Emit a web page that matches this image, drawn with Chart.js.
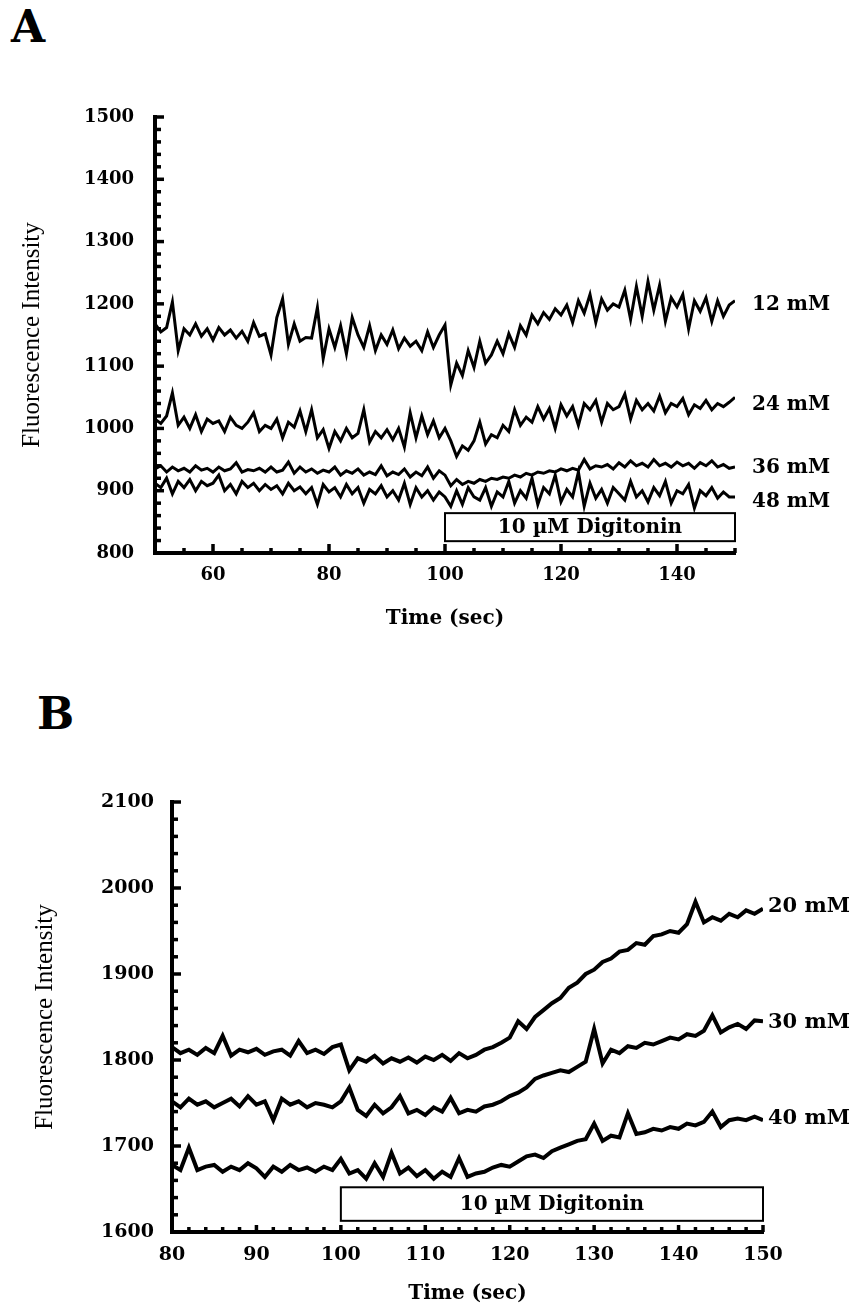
<!DOCTYPE html>
<html>
<head>
<meta charset="utf-8">
<script src="https://cdn.jsdelivr.net/npm/chart.js@4.4.0/dist/chart.umd.min.js"></script>
<style>
  body { margin: 0; background: #fff; width: 865px; height: 1310px; position: relative; overflow: hidden; }
  .panel { position: absolute; left: 0; }
  .tag { position: absolute; font: bold 44px 'DejaVu Serif'; line-height: 44px; color: #000; }
</style>
</head>
<body>

<div class="tag" style="left:11px;top:5px">A</div>
<div class="tag" style="left:37px;top:692px">B</div>

<canvas id="chartA" class="panel" style="top:0" width="865" height="635"></canvas>
<canvas id="chartB" class="panel" style="top:650px" width="865" height="660"></canvas>

<script>
// ---- panel A data (time in sec, fluorescence intensity) ----
const timeA = [50, 51, 52, 53, 54, 55, 56, 57, 58, 59, 60, 61, 62, 63, 64, 65, 66, 67, 68, 69,
  70, 71, 72, 73, 74, 75, 76, 77, 78, 79, 80, 81, 82, 83, 84, 85, 86, 87, 88, 89,
  90, 91, 92, 93, 94, 95, 96, 97, 98, 99, 100, 101, 102, 103, 104, 105, 106, 107, 108, 109,
  110, 111, 112, 113, 114, 115, 116, 117, 118, 119, 120, 121, 122, 123, 124, 125, 126, 127, 128, 129,
  130, 131, 132, 133, 134, 135, 136, 137, 138, 139, 140, 141, 142, 143, 144, 145, 146, 147, 148, 149, 150]

const mM12 = [1168, 1155, 1162, 1203, 1125, 1160, 1150, 1168, 1148, 1160,
  1142, 1162, 1150, 1158, 1145, 1156, 1140, 1170, 1148, 1152,
  1118, 1178, 1208, 1135, 1168, 1140, 1146, 1145, 1194, 1112,
  1160, 1130, 1165, 1120, 1178, 1150, 1130, 1165, 1125, 1150,
  1135, 1158, 1128, 1145, 1132, 1140, 1125, 1155, 1130, 1150,
  1166, 1070, 1105, 1085, 1125, 1098, 1140, 1105, 1118, 1140,
  1120, 1152, 1130, 1165, 1150, 1182, 1168, 1186, 1175, 1192,
  1182, 1198, 1170, 1205, 1185, 1215, 1170, 1208, 1190, 1200,
  1195, 1222, 1175, 1228, 1180, 1236, 1190, 1230, 1172, 1210,
  1195, 1215, 1160, 1205, 1188, 1210, 1172, 1205, 1180, 1198, 1205]

const mM24 = [1015, 1008, 1020, 1057, 1005, 1018, 1000, 1022, 995, 1015,
  1008, 1012, 995, 1018, 1005, 1000, 1010, 1025, 995, 1005,
  1000, 1015, 985, 1010, 1002, 1028, 995, 1030, 985, 998,
  968, 995, 980, 1000, 985, 992, 1030, 978, 995, 985,
  998, 982, 1000, 970, 1025, 985, 1020, 990, 1012, 985,
  1000, 980, 955, 972, 965, 980, 1010, 975, 990, 985,
  1005, 995, 1030, 1005, 1018, 1010, 1035, 1015, 1032, 1000,
  1038, 1020, 1035, 1005, 1040, 1030, 1045, 1010, 1040, 1030,
  1035, 1055, 1015, 1045, 1030, 1040, 1028, 1052, 1025, 1040,
  1035, 1048, 1022, 1038, 1032, 1045, 1030, 1040, 1035, 1042, 1050]

const mM36 = [935, 940, 930, 938, 932, 936, 930, 940, 933, 936,
  930, 938, 932, 935, 945, 930, 934, 932, 936, 930,
  938, 930, 933, 946, 928, 938, 930, 935, 928, 933,
  930, 938, 925, 932, 928, 935, 925, 930, 926, 940,
  924, 930, 926, 935, 922, 930, 924, 938, 920, 932,
  925, 908, 918, 910, 915, 912, 918, 915, 920, 918,
  922, 920, 925, 922, 928, 925, 930, 928, 932, 930,
  935, 932, 936, 933, 950, 935, 940, 938, 942, 935,
  945, 938, 948, 940, 944, 938, 950, 940, 944, 938,
  946, 940, 944, 936, 945, 940, 948, 938, 942, 936, 938]

const mM48 = [912, 905, 920, 895, 915, 905, 918, 900, 915, 908,
  912, 925, 900, 910, 895, 915, 905, 912, 900, 910,
  902, 908, 895, 912, 900, 906, 895, 905, 878, 910,
  898, 905, 890, 910, 895, 905, 880, 902, 895, 908,
  890, 900, 885, 912, 878, 905, 890, 900, 885, 898,
  890, 875, 900, 878, 905, 890, 885, 905, 875, 898,
  890, 915, 880, 900, 888, 920, 878, 905, 895, 925,
  882, 902, 890, 930, 875, 912, 888, 902, 880, 905,
  895, 885, 915, 890, 900, 882, 905, 892, 915, 880,
  900, 895, 910, 872, 900, 892, 905, 888, 898, 890, 890]

const namesA = ['12 mM', '24 mM', '36 mM', '48 mM']
const labelLevelA = [1198, 1038, 937, 882]
const tickXA = [60, 80, 100, 120, 140]
const tickYA = [800, 900, 1000, 1100, 1200, 1300, 1400, 1500]

// ---- panel B data ----
const timeB = [80, 81, 82, 83, 84, 85, 86, 87, 88, 89, 90, 91, 92, 93, 94, 95, 96, 97, 98, 99,
  100, 101, 102, 103, 104, 105, 106, 107, 108, 109, 110, 111, 112, 113, 114, 115, 116, 117, 118, 119,
  120, 121, 122, 123, 124, 125, 126, 127, 128, 129, 130, 131, 132, 133, 134, 135, 136, 137, 138, 139,
  140, 141, 142, 143, 144, 145, 146, 147, 148, 149, 150]

const mM20 = [1815, 1808, 1812, 1806, 1814, 1808, 1828, 1805, 1812, 1809,
  1813, 1806, 1810, 1812, 1805, 1822, 1808, 1812, 1807, 1815,
  1818, 1788, 1802, 1798, 1805, 1796, 1802, 1798, 1803, 1797,
  1804, 1800, 1806, 1799, 1808, 1802, 1806, 1812, 1815, 1820,
  1826, 1845, 1836, 1850, 1858, 1866, 1872, 1884, 1890, 1900,
  1905, 1914, 1918, 1926, 1928, 1936, 1934, 1944, 1946, 1950,
  1948, 1958, 1984, 1960, 1966, 1962, 1970, 1966, 1974, 1970, 1976]

const mM30 = [1752, 1745, 1755, 1748, 1752, 1745, 1750, 1755, 1746, 1758,
  1748, 1752, 1730, 1755, 1748, 1752, 1745, 1750, 1748, 1745,
  1752, 1768, 1742, 1735, 1748, 1738, 1745, 1758, 1738, 1742,
  1736, 1745, 1740, 1756, 1738, 1742, 1740, 1746, 1748, 1752,
  1758, 1762, 1768, 1778, 1782, 1785, 1788, 1786, 1792, 1798,
  1836, 1796, 1812, 1808, 1816, 1814, 1820, 1818, 1822, 1826,
  1824, 1830, 1828, 1834, 1852, 1832, 1838, 1842, 1836, 1846, 1845]

const mM40 = [1678, 1672, 1698, 1672, 1676, 1678, 1670, 1676, 1672, 1680,
  1674, 1664, 1676, 1670, 1678, 1672, 1675, 1670, 1676, 1672,
  1685, 1668, 1672, 1662, 1680, 1664, 1692, 1668, 1675, 1665,
  1672, 1662, 1670, 1664, 1686, 1664, 1668, 1670, 1675, 1678,
  1676, 1682, 1688, 1690, 1686, 1694, 1698, 1702, 1706, 1708,
  1726, 1706, 1712, 1710, 1738, 1714, 1716, 1720, 1718, 1722,
  1720, 1726, 1724, 1728, 1740, 1722, 1730, 1732, 1730, 1734, 1730]

const namesB = ['20 mM', '30 mM', '40 mM']
const labelLevelB = [1978, 1844, 1732]
const tickXB = [80, 90, 100, 110, 120, 130, 140, 150]
const tickYB = [1600, 1700, 1800, 1900, 2000, 2100]


const toPoints = (times, values) => values.map((v, i) => ({ x: times[i], y: v }))

// ticks that point into the plot, like the original figure
const innerTicks = {
  id: 'innerTicks',
  afterDraw(chart, args, opts) {
    const { ctx, scales: { x, y } } = chart
    ctx.save()
    ctx.strokeStyle = '#000'
    ctx.lineWidth = 3.5
    const nx = Math.round((x.max - x.min) / opts.xMinor)
    for (let i = 0; i <= nx; i++) {
      const v = x.min + i * opts.xMinor
      const px = x.getPixelForValue(v)
      const len = v % opts.xMajor === 0 ? opts.xLong : 5
      ctx.beginPath()
      ctx.moveTo(px, y.bottom)
      ctx.lineTo(px, y.bottom - len)
      ctx.stroke()
    }
    const ny = Math.round((y.max - y.min) / opts.yMinor)
    for (let i = 0; i <= ny; i++) {
      const v = y.min + i * opts.yMinor
      const py = y.getPixelForValue(v)
      const len = v % opts.yMajor === 0 ? 9 : 6
      ctx.beginPath()
      ctx.moveTo(x.left, py)
      ctx.lineTo(x.left + len, py)
      ctx.stroke()
    }
    ctx.restore()
  }
}

const sideLabels = {
  id: 'sideLabels',
  afterDatasetsDraw(chart, args, opts) {
    const { ctx, scales: { x, y } } = chart
    ctx.save()
    ctx.font = opts.font
    ctx.fillStyle = '#000'
    ctx.textBaseline = 'middle'
    opts.names.forEach((name, i) => {
      ctx.fillText(name, x.right + opts.gap, y.getPixelForValue(opts.levels[i]))
    })
    ctx.restore()
  }
}

const digitoninBox = {
  id: 'digitoninBox',
  afterDatasetsDraw(chart, args, opts) {
    const { ctx, scales: { x, y } } = chart
    const left = x.getPixelForValue(opts.from)
    const right = x.getPixelForValue(opts.to)
    const top = y.getPixelForValue(opts.high)
    const bottom = y.getPixelForValue(opts.low)
    ctx.save()
    ctx.fillStyle = '#fff'
    ctx.fillRect(left, top, right - left, bottom - top)
    ctx.strokeStyle = '#000'
    ctx.lineWidth = 2
    ctx.strokeRect(left, top, right - left, bottom - top)
    ctx.fillStyle = '#000'
    ctx.font = opts.font
    ctx.textAlign = 'center'
    ctx.textBaseline = 'middle'
    ctx.fillText(opts.text, (left + right) / 2, (top + bottom) / 2 + 1)
    ctx.restore()
  }
}

const trace = (data, width) => ({
  data,
  borderColor: '#000',
  borderWidth: width,
  pointRadius: 0,
  tension: 0,
  fill: false
})

const makeScales = (cfg) => ({
  x: {
    type: 'linear',
    min: cfg.xMin,
    max: cfg.xMax,
    grid: { display: false, drawTicks: false },
    border: { display: true, color: '#000', width: 4 },
    afterBuildTicks: s => { s.ticks = cfg.xTicks.map(v => ({ value: v })) },
    afterFit: s => { s.height = cfg.xHeight },
    ticks: {
      color: '#000',
      padding: 12,
      callback: v => String(v),
      font: { family: 'DejaVu Serif', weight: 'bold', size: cfg.tickSize }
    },
    title: {
      display: true,
      text: 'Time (sec)',
      color: '#000',
      padding: { top: 0, bottom: 4 },
      font: { family: 'DejaVu Serif', weight: 'bold', size: 20 }
    }
  },
  y: {
    type: 'linear',
    min: cfg.yMin,
    max: cfg.yMax,
    grid: { display: false, drawTicks: false },
    border: { display: true, color: '#000', width: 4 },
    afterBuildTicks: s => { s.ticks = cfg.yTicks.map(v => ({ value: v })) },
    afterFit: s => { s.width = cfg.yWidth },
    ticks: {
      color: '#000',
      padding: cfg.yPad,
      callback: v => String(v),
      font: { family: 'DejaVu Serif', weight: 'bold', size: cfg.tickSize }
    },
    title: {
      display: true,
      text: 'Fluorescence Intensity',
      color: '#000',
      padding: { top: cfg.titlePad, bottom: 0 },
      font: { family: 'Liberation Serif', size: 25 }
    }
  }
})


new Chart('chartA', {
  type: 'line',
  data: {
    datasets: [
      trace(toPoints(timeA, mM12), 3),
      trace(toPoints(timeA, mM24), 3),
      trace(toPoints(timeA, mM36), 3),
      trace(toPoints(timeA, mM48), 3)
    ]
  },
  options: {
    responsive: false,
    animation: false,
    devicePixelRatio: 1,
    layout: { padding: { top: 117, right: 130, left: 0, bottom: 0 } },
    scales: makeScales({
      xMin: 50, xMax: 150, yMin: 800, yMax: 1500,
      xTicks: tickXA, yTicks: tickYA,
      xHeight: 82, yWidth: 155, yPad: 21, titlePad: 17, tickSize: 18
    }),
    plugins: {
      legend: { display: false },
      tooltip: { enabled: false },
      innerTicks: { xMinor: 5, xMajor: 20, xLong: 9, yMinor: 20, yMajor: 100 },
      sideLabels: { names: namesA, levels: labelLevelA, gap: 17, font: 'bold 20px "DejaVu Serif"' },
      digitoninBox: { from: 100, to: 150, low: 819, high: 864, text: '10 µM Digitonin', font: 'bold 20px "DejaVu Serif"' }
    }
  },
  plugins: [innerTicks, sideLabels, digitoninBox]
})

new Chart('chartB', {
  type: 'line',
  data: {
    datasets: [
      trace(toPoints(timeB, mM20), 4),
      trace(toPoints(timeB, mM30), 4),
      trace(toPoints(timeB, mM40), 4)
    ]
  },
  options: {
    responsive: false,
    animation: false,
    devicePixelRatio: 1,
    layout: { padding: { top: 152, right: 102, left: 0, bottom: 0 } },
    scales: makeScales({
      xMin: 80, xMax: 150, yMin: 1600, yMax: 2100,
      xTicks: tickXB, yTicks: tickYB,
      xHeight: 78, yWidth: 172, yPad: 18, titlePad: 30, tickSize: 19
    }),
    plugins: {
      legend: { display: false },
      tooltip: { enabled: false },
      innerTicks: { xMinor: 2, xMajor: 10, xLong: 7, yMinor: 20, yMajor: 100 },
      sideLabels: { names: namesB, levels: labelLevelB, gap: 5, font: 'bold 21px "DejaVu Serif"' },
      digitoninBox: { from: 100, to: 150, low: 1613, high: 1652, text: '10 µM Digitonin', font: 'bold 20px "DejaVu Serif"' }
    }
  },
  plugins: [innerTicks, sideLabels, digitoninBox]
})
</script>
</body>
</html>
